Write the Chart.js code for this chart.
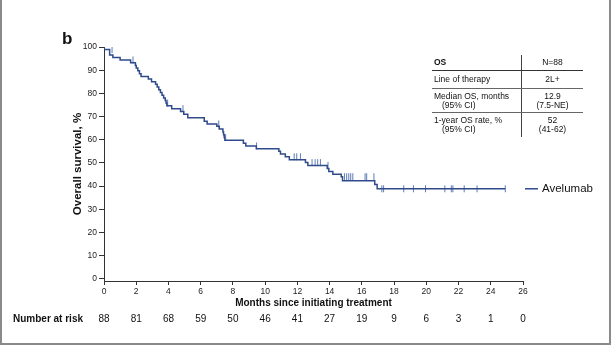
<!DOCTYPE html>
<html>
<head>
<meta charset="utf-8">
<script src="https://cdn.jsdelivr.net/npm/chart.js@4"></script>
<style>
body { margin: 0; background: #fff; font-family: "Liberation Sans", Arial, sans-serif; }
#wrap { position: relative; width: 611px; height: 345px; overflow: hidden; }
#kmChart { position: absolute; left: 0; top: 0; }
.panel { position: absolute; left: 62px; top: 29px; font-size: 17px; font-weight: bold; color: #111; }
.frame { position: absolute; left: 0; top: 0; width: 611px; height: 345px; box-sizing: border-box;
  border: 2px solid #8a8a8a; border-top: none; pointer-events: none; }
table.os { position: absolute; left: 432px; top: 55px; width: 151px; border-collapse: collapse;
  font-size: 8.5px; color: #111; line-height: 9px; }
table.os td { padding: 0 0 0 2px; vertical-align: middle; }
table.os td.v { text-align: center; border-left: 1px solid #444; padding: 0; width: 61px; }
table.os tr.h td { font-weight: bold; height: 15px; border-bottom: 1px solid #333; }
table.os tr.h td.v { font-weight: normal; }
table.os tr.r2 td { height: 17px; border-bottom: 1px solid #666; }
table.os tr.r3 td { height: 23px; border-bottom: 1px solid #666; }
table.os tr.r4 td { height: 24px; }
.ind { padding-left: 8px; }
</style>
</head>
<body>
<div id="wrap">
<canvas id="kmChart" width="611" height="345"></canvas>
<div class="panel">b</div>
<table class="os">
  <tr class="h"><td>OS</td><td class="v">N=88</td></tr>
  <tr class="r2"><td>Line of therapy</td><td class="v">2L+</td></tr>
  <tr class="r3"><td>Median OS, months<br><span class="ind">(95% CI)</span></td><td class="v">12.9<br>(7.5-NE)</td></tr>
  <tr class="r4"><td>1-year OS rate, %<br><span class="ind">(95% CI)</span></td><td class="v">52<br>(41-62)</td></tr>
</table>
<div class="frame"></div>
</div>
<script>
// Kaplan-Meier steps: month of each drop and survival (%) after it
const eventMonths = [0, 0.35, 0.55, 1.0, 1.65, 1.95, 2.0, 2.1, 2.2, 2.3, 2.75, 2.95, 3.2, 3.3, 3.4, 3.5, 3.6, 3.7, 3.8, 3.85, 3.9,
  4.2, 4.75, 4.95, 5.2, 6.22, 6.4, 7.0, 7.15, 7.38, 7.42, 7.46, 7.5, 8.65, 8.8, 9.45, 10.85, 10.95, 11.25, 11.5,
  12.5, 12.65, 13.85, 13.95, 14.2, 14.72, 14.8, 16.8, 16.95, 17.1];
const survival = [100, 98.9, 96.6, 95.5, 94.4, 93.2, 92.0, 90.9, 89.7, 88.5, 87.3, 86.2, 85.0, 83.9, 82.7, 81.6, 80.4, 79.2, 78.0, 76.9, 75.8,
  74.6, 73.4, 72.2, 71.0, 69.5, 68.0, 66.8, 65.8, 64.6, 63.3, 62.1, 60.9, 59.7, 58.5, 57.3, 56.1, 55.0, 53.8, 52.6,
  51.3, 50.1, 48.9, 47.6, 46.3, 45.1, 44.0, 42.3, 40.6, 38.8];
// censored patients (months)
const censorMonths = [0.5, 1.8, 3.95, 4.9, 7.12, 7.55, 9.47, 11.8, 11.96, 12.19, 12.91, 13.1, 13.26, 13.43, 13.9,
  14.92, 15.06, 15.19, 15.31, 15.44, 16.2, 16.3, 16.75, 17.24, 17.35, 18.6, 19.2, 19.95, 21.15, 21.55, 21.65,
  22.35, 23.15, 24.9];
const xTicks = [0, 2, 4, 6, 8, 10, 12, 14, 16, 18, 20, 22, 24, 26];
const yTicks = [0, 10, 20, 30, 40, 50, 60, 70, 80, 90, 100];
const riskMonths = [0, 2, 4, 6, 8, 10, 12, 14, 16, 18, 20, 22, 24, 26];
const numberAtRisk = [88, 81, 68, 59, 50, 46, 41, 27, 19, 9, 6, 3, 1, 0];
const seriesName = 'Avelumab';

const FONT = '"Liberation Sans", Arial, sans-serif';
const lineColor = '#2f4b8c';
const censorColor = '#5d7cb6';

function survivalAt(t) {
  let s = survival[0];
  for (let i = 0; i < eventMonths.length; i++) {
    if (eventMonths[i] <= t) s = survival[i];
  }
  return s;
}

const lastFollowUp = Math.max(...censorMonths);
const kmPoints = eventMonths.map((m, i) => ({x: m, y: survival[i]}));
kmPoints.push({x: lastFollowUp, y: survivalAt(lastFollowUp)});
const censorPoints = censorMonths.map(m => ({x: m, y: survivalAt(m)}));

const riskRow = {
  id: 'riskRow',
  afterDraw(chart) {
    const {ctx, chartArea} = chart;
    const x = chart.scales.x, y = chart.scales.y;
    ctx.save();
    ctx.fillStyle = '#111';
    ctx.textBaseline = 'middle';
    ctx.textAlign = 'left';
    ctx.font = 'bold 10px ' + FONT;
    ctx.fillText('Number at risk', 13, 319);
    ctx.font = '10px ' + FONT;
    ctx.textAlign = 'center';
    riskMonths.forEach((m, i) => {
      ctx.fillText(String(numberAtRisk[i]), x.getPixelForValue(m), 319);
    });

    // legend next to the curve end
    const ly = y.getPixelForValue(survival[survival.length - 1]);
    ctx.strokeStyle = lineColor;
    ctx.lineWidth = 1.5;
    ctx.beginPath();
    ctx.moveTo(chartArea.right + 2, ly);
    ctx.lineTo(chartArea.right + 15, ly);
    ctx.stroke();
    ctx.textAlign = 'left';
    ctx.font = '11.5px ' + FONT;
    ctx.fillText(seriesName, chartArea.right + 19, ly + 0.5);
    ctx.restore();
  }
};

new Chart(document.getElementById('kmChart'), {
  type: 'line',
  data: {
    datasets: [{
      label: seriesName,
      data: kmPoints,
      stepped: 'after',
      borderColor: lineColor,
      borderWidth: 1.5,
      pointRadius: 0,
      fill: false
    }, {
      label: 'Censored',
      data: censorPoints,
      showLine: false,
      pointStyle: 'line',
      rotation: 90,
      pointRadius: 3.5,
      borderColor: censorColor,
      borderWidth: 1
    }]
  },
  options: {
    responsive: false,
    animation: false,
    devicePixelRatio: 1,
    layout: { padding: { left: 0, top: 47, right: 88, bottom: 0 } },
    plugins: { legend: { display: false }, tooltip: { enabled: false } },
    scales: {
      x: {
        type: 'linear',
        min: 0,
        max: 26,
        afterBuildTicks: s => { s.ticks = xTicks.map(v => ({value: v})); },
        afterFit: s => { s.height = 64; },
        grid: { drawOnChartArea: false, tickLength: 4, color: '#333' },
        border: { color: '#333', width: 1 },
        ticks: { font: { family: FONT, size: 8.5 }, color: '#222', padding: 2, maxRotation: 0 },
        title: { display: true, text: 'Months since initiating treatment',
          font: { family: FONT, size: 10, weight: 'bold' }, color: '#111', padding: { top: 0, bottom: 36 } }
      },
      y: {
        min: -1,
        max: 100,
        afterBuildTicks: s => { s.ticks = yTicks.map(v => ({value: v})); },
        afterFit: s => { s.width = 104; },
        grid: { drawOnChartArea: false, tickLength: 5, color: '#333' },
        border: { color: '#333', width: 1 },
        ticks: { font: { family: FONT, size: 8.5 }, color: '#222', padding: 2 },
        title: { display: true, text: 'Overall survival, %',
          font: { family: FONT, size: 11.5, weight: 'bold' }, color: '#111', padding: { top: 71, bottom: 0 } }
      }
    }
  },
  plugins: [riskRow]
});
</script>
</body>
</html>
